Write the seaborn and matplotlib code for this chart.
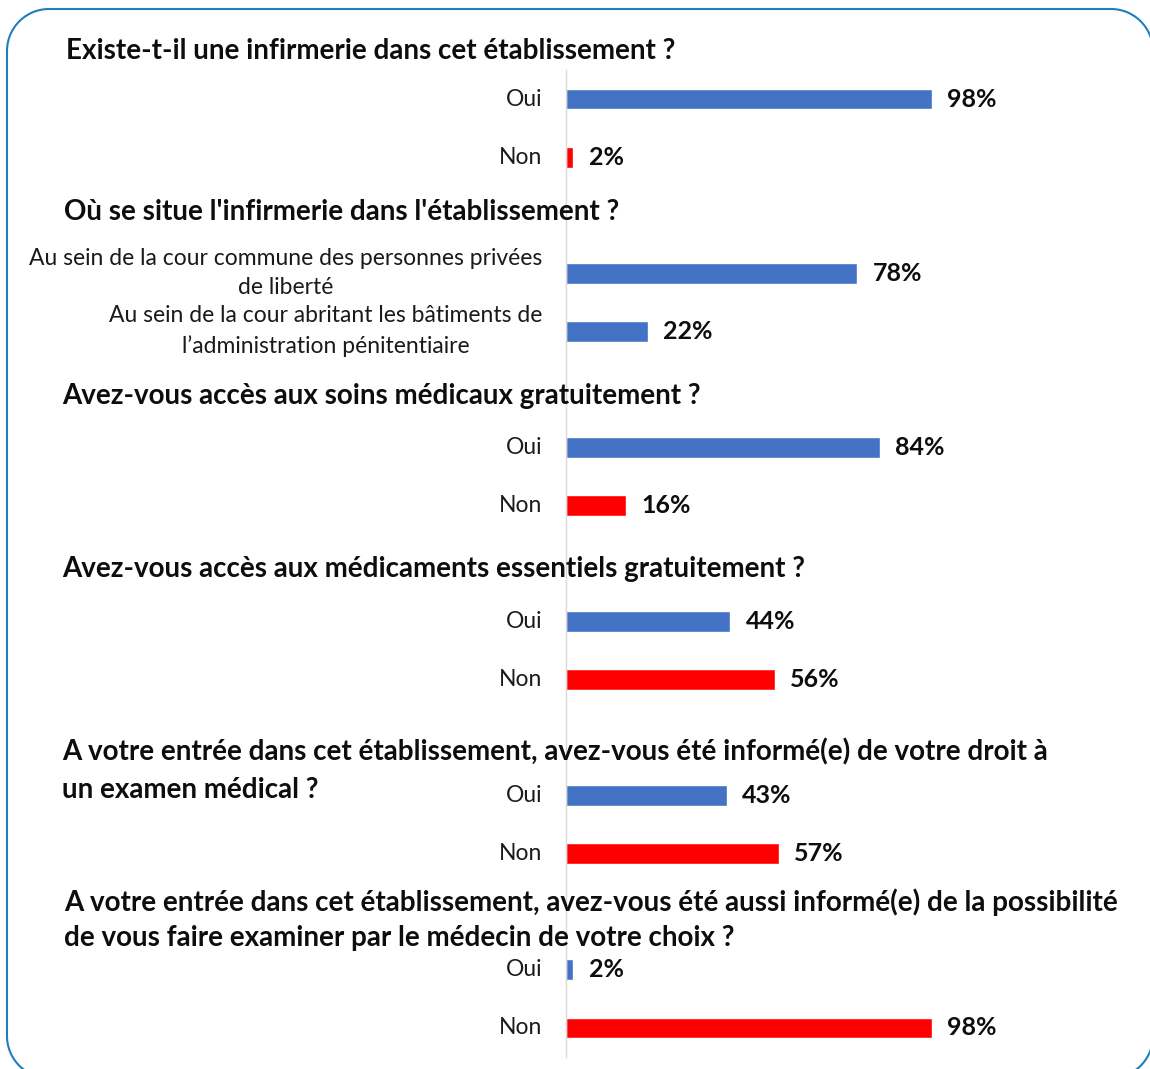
import numpy as np
import pandas as pd
import matplotlib.pyplot as plt
import seaborn as sns

# each question is a list of its printed lines
questions = [
    ["Existe-t-il une infirmerie dans cet établissement ?"],
    ["Où se situe l'infirmerie dans l'établissement ?"],
    ["Avez-vous accès aux soins médicaux gratuitement ?"],
    ["Avez-vous accès aux médicaments essentiels gratuitement ?"],
    ["A votre entrée dans cet établissement, avez-vous été informé(e) de votre droit à",
     "un examen médical ?"],
    ["A votre entrée dans cet établissement, avez-vous été aussi informé(e) de la possibilité",
     "de vous faire examiner par le médecin de votre choix ?"],
]
answers = [
    ["Oui", "Non"],
    ["Au sein de la cour commune des personnes privées\nde liberté",
     "Au sein de la cour abritant les bâtiments de\nl\u2019administration pénitentiaire"],
    ["Oui", "Non"],
    ["Oui", "Non"],
    ["Oui", "Non"],
    ["Oui", "Non"],
]
values = [[98, 2], [78, 22], [84, 16], [44, 56], [43, 57], [2, 98]]
is_no = [[False, True], [False, False], [False, True],
         [False, True], [False, True], [False, True]]

BLUE = "#4472C4"
RED = "#FF0000"

# one empty slot before each question, then its two answers
rows = []
order = []
for qi in range(len(questions)):
    order.append(f"gap{qi}")
    for ai in range(2):
        key = f"q{qi}a{ai}"
        order.append(key)
        rows.append({"slot": key, "label": answers[qi][ai], "value": values[qi][ai],
                     "color": RED if is_no[qi][ai] else BLUE})
df = pd.DataFrame(rows)

sns.set_style("white")
plt.rcParams["font.family"] = ["Lato", "DejaVu Sans"]

W, H = 1150, 1069
fig = plt.figure(figsize=(W / 100, H / 100), dpi=100)

# overlay in pixel units for the rounded frame
bg = fig.add_axes([0, 0, 1, 1], zorder=-1)
bg.set_xlim(0, W)
bg.set_ylim(H, 0)
bg.axis("off")
x0, y0, x1, y1, r = 7, 9, 1153, 1078, 42
t = np.linspace(0, np.pi / 2, 30)
corners = [
    (x1 - r, y0 + r, -np.pi / 2 + t),   # top right
    (x1 - r, y1 - r, t),                # bottom right
    (x0 + r, y1 - r, np.pi / 2 + t),    # bottom left
    (x0 + r, y0 + r, np.pi + t),        # top left
]
fx, fy = [], []
for cx, cy, ang in corners:
    fx.extend(cx + r * np.cos(ang))
    fy.extend(cy + r * np.sin(ang))
fx.append(fx[0])
fy.append(fy[0])
bg.plot(fx, fy, color="#1F7FBA", lw=1.5, clip_on=False)

ax = fig.add_axes([566 / W, 1 - 1057 / H, 560 / W, 987 / H])
ax.patch.set_alpha(0)

sns.barplot(data=df, x="value", y="slot", hue="slot", order=order,
            palette=dict(zip(df["slot"], df["color"])), orient="h",
            width=0.36, legend=False, saturation=1, ax=ax)

ax.set_xlim(0, 150)
ax.set_ylim(len(order) - 0.5, 0.5)
ax.set_xticks([])
ax.set_xlabel("")
ax.set_ylabel("")

pos = [order.index(k) for k in df["slot"]]
ax.set_yticks(pos)
ax.set_yticklabels(df["label"], fontsize=16.5, linespacing=1.5)
for lab in ax.get_yticklabels():
    lab.set_multialignment("center")
    lab.set_verticalalignment("center")
ax.tick_params(axis="y", length=0, pad=17, colors="#1a1a1a")

for side in ["top", "right", "bottom"]:
    ax.spines[side].set_visible(False)
ax.spines["left"].set_color("#d9d9d9")
ax.spines["left"].set_linewidth(1)

for c in ax.containers:
    ax.bar_label(c, fmt="%g%%", padding=11, fontsize=18, fontweight="bold",
                 color="#0d0d0d")

# question titles (pixel positions of each line)
title_y = [[51], [212], [396], [569], [752, 790], [902, 938]]
title_x = [66, 64, 62, 62, 62, 64]
for lines, tx, ys in zip(questions, title_x, title_y):
    for line, ty in zip(lines, ys):
        fig.text(tx / W, 1 - ty / H, line, fontsize=20, fontweight="bold",
                 ha="left", va="center", color="#0d0d0d")

fig.savefig("out.png", dpi=100)
